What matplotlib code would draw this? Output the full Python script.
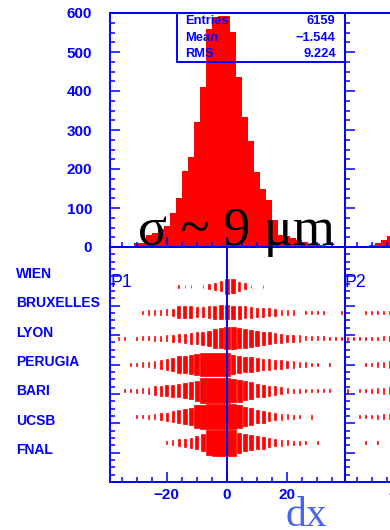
import matplotlib
matplotlib.use("Agg")
import matplotlib.pyplot as plt
import matplotlib.transforms as mtransforms
from matplotlib.patches import Rectangle
from matplotlib.ticker import MultipleLocator

# dx bins: 2 um wide, centred on even values from -38 to 38
bin_centres = list(range(-38, 39, 2))

# dx residuals, plane P1 (all stations)
p1_counts = [0, 1, 2, 3, 9, 11, 31, 35, 45, 55,
             87, 126, 195, 231, 321, 410, 560, 590, 592, 592,
             552, 437, 334, 272, 193, 148, 120, 69, 32, 28,
             24, 18, 12, 8, 6, 4, 3, 2, 1]
# dx residuals, plane P2 (first bins)
p2_centres = bin_centres[:8]
p2_counts = [0, 1, 2, 3, 4, 11, 18, 28]

stat_names = ["Entries", "Mean", "RMS"]
stat_mean = "\u22121.544"
stat_rms = "9.224"

# per-station residuals (box content), plane P1
labs = ["WIEN", "BRUXELLES", "LYON", "PERUGIA", "BARI", "UCSB", "FNAL"]
wien = [0, 0, 0, 0, 0, 0, 0, 0, 0, 0, 0, 11, 11, 11, 0, 13, 20, 29, 42, 59,
        56, 37, 24, 13, 0, 11, 0, 0, 0, 0, 0, 0, 0, 0, 0, 0, 0, 0, 0]
bruxelles = [0, 0, 0, 0, 0, 14, 19, 19, 21, 24, 29, 47, 47, 47, 40, 40, 47, 53, 56, 56,
             53, 51, 47, 43, 37, 37, 33, 27, 21, 21, 21, 0, 13, 13, 13, 13, 0, 0, 11]
lyon = [0, 13, 11, 0, 13, 16, 16, 19, 21, 24, 27, 32, 37, 43, 47, 51, 60, 73, 80, 87,
        87, 80, 73, 67, 60, 53, 47, 40, 33, 29, 27, 27, 16, 16, 16, 16, 13, 13, 13]
perugia = [0, 0, 0, 12, 13, 16, 19, 24, 33, 40, 54, 64, 68, 76, 87, 92, 93, 93, 93, 92,
           76, 68, 60, 56, 51, 45, 41, 37, 33, 29, 25, 21, 17, 15, 12, 0, 11, 0, 0]
bari = [0, 0, 13, 13, 16, 19, 24, 37, 40, 43, 47, 51, 60, 67, 80, 100, 100, 100, 100, 100,
        93, 87, 73, 67, 53, 47, 40, 33, 27, 20, 16, 16, 13, 13, 13, 13, 13, 0, 0]
ucsb = [0, 0, 0, 0, 11, 13, 16, 20, 27, 33, 43, 51, 60, 69, 91, 96, 100, 100, 100, 100,
        100, 92, 77, 67, 53, 47, 37, 29, 24, 19, 16, 13, 0, 16, 0, 0, 0, 0, 0]
fnal = [0, 0, 0, 0, 0, 0, 0, 0, 0, 13, 19, 27, 33, 40, 51, 67, 100, 104, 104, 104,
        104, 80, 67, 60, 53, 47, 37, 29, 24, 19, 16, 16, 13, 0, 13, 0, 0, 0, 0]
# plane P2, first bins
wien_p2 = [0, 0, 0, 0, 0, 0, 0, 0]
bruxelles_p2 = [0, 0, 0, 11, 11, 13, 13, 13]
lyon_p2 = [12, 11, 11, 11, 13, 13, 16, 19]
perugia_p2 = [0, 0, 0, 11, 13, 16, 19, 24]
bari_p2 = [16, 0, 11, 13, 16, 19, 24, 27]
ucsb_p2 = [0, 0, 11, 11, 13, 16, 19, 21]
fnal_p2 = [0, 0, 0, 11, 0, 11, 0, 0]

p1_rows = [wien, bruxelles, lyon, perugia, bari, ucsb, fnal]
p2_rows = [wien_p2, bruxelles_p2, lyon_p2, perugia_p2, bari_p2, ucsb_p2, fnal_p2]

BLUE = "#0000ff"
RED = "#ff0000"
SANS = "Liberation Sans"
SERIF = "Liberation Serif"

W, H = 390, 530
fig = plt.figure(figsize=(W / 100, H / 100), dpi=100)
fig.patch.set_facecolor("white")

X0, X1 = 109.5, 344.5
YT0, YT1 = 13, 247
YB1 = 482
pw = (X1 - X0) / W


def frame(x_left_px, y_top_px, y_bot_px):
    return fig.add_axes([x_left_px / W, 1 - y_bot_px / H, pw, (y_bot_px - y_top_px) / H])


ax_top1 = frame(X0, YT0, YT1)
ax_bot1 = frame(X0, YT1, YB1)
ax_top2 = frame(X1, YT0, YT1)
ax_bot2 = frame(X1, YT1, YB1)


def style(ax, ymaj, ymin, xlabels):
    ax.set_xlim(-39, 39)
    for sp in ax.spines.values():
        sp.set_color(BLUE)
        sp.set_linewidth(1.4)
    ax.xaxis.set_major_locator(MultipleLocator(20))
    ax.xaxis.set_minor_locator(MultipleLocator(5))
    ax.yaxis.set_major_locator(MultipleLocator(ymaj))
    ax.yaxis.set_minor_locator(MultipleLocator(ymin))
    ax.tick_params(which="both", direction="in", color=BLUE, width=1.1,
                   top=False, right=False, labelcolor=BLUE)
    ax.tick_params(which="major", length=7.5)
    ax.tick_params(which="minor", length=3.8)
    ax.tick_params(axis="y", labelleft=False)
    ax.tick_params(axis="x", labelbottom=xlabels, pad=4)
    for lab in ax.get_xticklabels():
        lab.set_fontfamily(SANS)
        lab.set_fontweight("bold")
        lab.set_fontsize(11)
    ax.set_facecolor("none")


# top row: dx histograms
for ax, cen, cnt in [(ax_top1, bin_centres, p1_counts), (ax_top2, p2_centres, p2_counts)]:
    ax.bar(cen, cnt, width=2.0, color=RED, linewidth=0, align="center")
    ax.set_ylim(0, 600)
    style(ax, 100, 25, False)

ax_top1.tick_params(axis="y", labelleft=True, pad=12.6)
for lab in ax_top1.get_yticklabels():
    lab.set_fontfamily(SANS)
    lab.set_fontweight("bold")
    lab.set_fontsize(11)

# statistics box
ax_top1.add_patch(Rectangle((0.286, 0.792), 0.714, 0.208, transform=ax_top1.transAxes,
                            fill=False, edgecolor=BLUE, linewidth=1.4, clip_on=False))
entries = f"{sum(p1_counts):d}"
stat_vals = [entries, stat_mean, stat_rms]
for name, val, yy in zip(stat_names, stat_vals, [0.966, 0.893, 0.826]):
    ax_top1.text(0.321, yy, name, transform=ax_top1.transAxes, ha="left", va="center",
                 color=BLUE, fontfamily=SANS, fontweight="bold", fontsize=9.3)
    ax_top1.text(0.9626, yy, val, transform=ax_top1.transAxes, ha="right", va="center",
                 color=BLUE, fontfamily=SANS, fontweight="bold", fontsize=9.3)

# bottom row: per-station box plots (9 y bins over [0, 8], stations in bins 7..1)
n_ybins = 9
bin_h = 8.0 / n_ybins
vmax = max(max(r) for r in p1_rows)
for ax, cen, rows in [(ax_bot1, bin_centres, p1_rows), (ax_bot2, p2_centres, p2_rows)]:
    for j, row in enumerate(rows):
        yc = (7 - j + 0.5) * bin_h
        xs = [c for c, v in zip(cen, row) if v > 0]
        ss = [v / vmax for v in row if v > 0]
        ax.bar(xs, [bin_h * s for s in ss], width=[2.0 * s for s in ss],
               bottom=[yc - bin_h * s / 2 for s in ss], color=RED,
               edgecolor=RED, linewidth=0.5, align="center")
    ax.set_ylim(0, 8)
    style(ax, 1, 0.25, True)

ax_bot1.axvline(0, color=BLUE, linewidth=1.4)

# station names
trans = mtransforms.blended_transform_factory(fig.transFigure, ax_bot1.transData)
for k, name in zip(range(7, 0, -1), labs):
    fig.text(16 / W, k - 0.05, name, transform=trans, ha="left", va="baseline",
             color=BLUE, fontfamily=SANS, fontweight="bold", fontsize=10)

fig.text(110 / W, 1 - 287 / H, "P1", ha="left", va="baseline", color=BLUE,
         fontfamily=SANS, fontsize=12.8)
fig.text(345 / W, 1 - 287 / H, "P2", ha="left", va="baseline", color=BLUE,
         fontfamily=SANS, fontsize=12.8)

fig.text(237 / W, 1 - 245 / H, "\u03c3 ~ 9 \u03bcm", ha="center", va="baseline",
         color="black", fontfamily=SERIF, fontsize=39)
fig.text(306 / W, 1 - 526 / H, "dx", ha="center", va="baseline",
         color="#4a64f0", fontfamily=SERIF, fontsize=30)

fig.savefig("out.png", dpi=100)
